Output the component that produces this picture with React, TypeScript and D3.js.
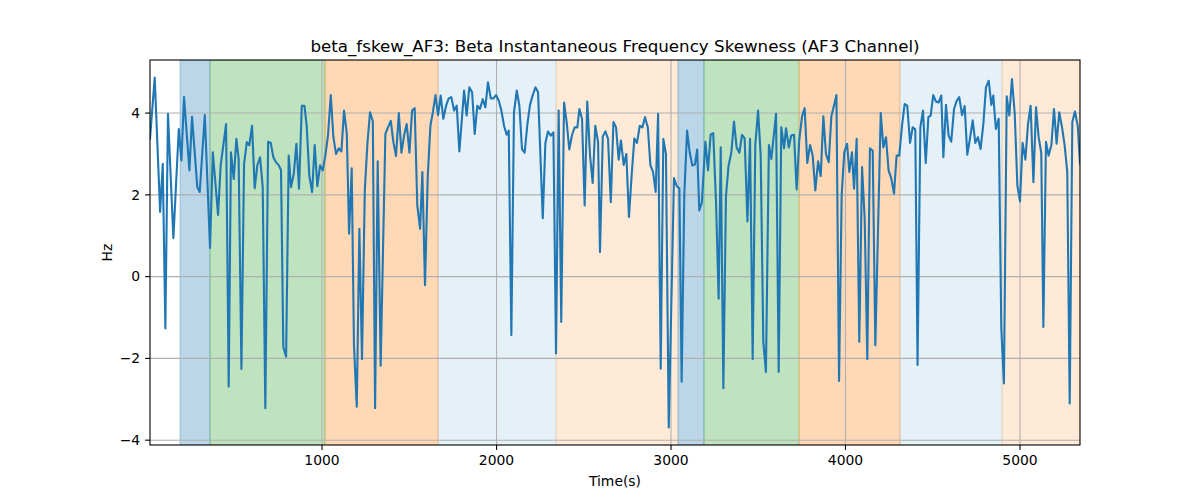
import React from "react";
import * as d3 from "d3";

const times: number[] = [
  14, 41, 72, 87, 102, 117, 148, 179, 194, 209, 240, 255, 285, 299, 328, 358, 374, 404, 419, 450,
  465, 478, 494, 509, 522, 538, 553, 569, 583, 599, 614, 629, 645, 660, 675, 691, 706, 721, 736, 752, 765, 778, 794, 809, 822, 838, 853, 868, 884, 899,
  912, 927, 943, 958, 973, 989, 1004, 1019, 1034, 1050, 1065, 1080, 1096, 1111, 1126, 1142, 1155, 1170, 1183, 1199, 1214, 1229, 1245, 1260, 1275, 1291, 1304, 1319, 1336,
  1363, 1378, 1394, 1409, 1424, 1440, 1455, 1470, 1485, 1501, 1516, 1531, 1546, 1562, 1575, 1590, 1606, 1621, 1636, 1650, 1665, 1680, 1695, 1711, 1726, 1741, 1757, 1772, 1787,
  1814, 1829, 1844, 1860, 1875, 1890, 1905, 1921, 1936, 1951, 1967, 1982, 1997, 2013, 2028, 2043, 2058, 2070, 2085, 2100, 2116, 2131, 2146, 2161, 2177, 2192, 2207, 2223, 2238,
  2265, 2280, 2295, 2311, 2326, 2341, 2356, 2371, 2387, 2402, 2417, 2433, 2448, 2463, 2475, 2490, 2505, 2520, 2536, 2551, 2566, 2582, 2593, 2609, 2624, 2639, 2655, 2670, 2685,
  2700, 2713, 2729, 2744, 2759, 2775, 2790, 2805, 2821, 2836, 2851, 2867, 2882, 2897, 2912, 2926, 2941, 2956, 2971, 2987, 3017, 3033, 3048, 3061, 3076, 3092, 3107, 3122,
  3137, 3150, 3162, 3177, 3197, 3212, 3227, 3242, 3258, 3273, 3285, 3300, 3315, 3330, 3346, 3361, 3376, 3392, 3407, 3422, 3438, 3453, 3468, 3483, 3499, 3514, 3529, 3544, 3561, 3575,
  3602, 3617, 3632, 3648, 3659, 3675, 3689, 3705, 3720, 3735, 3751, 3766, 3781, 3797, 3812, 3827, 3843, 3858, 3873, 3888, 3904, 3919, 3934, 3948, 3963, 3978, 3993, 4009, 4022,
  4037, 4049, 4064, 4079, 4095, 4110, 4125, 4140, 4156, 4171, 4202, 4217, 4232, 4247, 4263, 4278, 4293, 4308, 4324, 4339, 4354, 4370, 4385, 4400, 4413, 4429, 4444, 4460, 4475,
  4488, 4503, 4519, 4534, 4549, 4561, 4576, 4591, 4606, 4622, 4637, 4652, 4668, 4683, 4698, 4713, 4729, 4744, 4759, 4774, 4790, 4805, 4821, 4836, 4847, 4862, 4878, 4893, 4908, 4924,
  4939, 4954, 4970, 4985, 5000, 5015, 5031, 5046, 5061, 5077, 5092, 5107, 5122, 5134, 5149, 5164, 5180, 5195, 5210, 5225, 5241, 5256, 5271, 5285, 5300, 5315, 5331, 5344,
];

const values: number[] = [
  3.37, 4.87, 1.58, 2.76, -1.27, 3.98, 0.94, 3.61, 2.84, 4.39, 2.6, 3.91, 2.19, 2.07, 3.95, 0.7, 3.04, 1.51, 2.72, 3.73,
  -2.69, 3.04, 2.39, 3.37, 2.88, -2.26, 2.76, 3.29, 3.21, 3.69, 2.16, 2.72, 2.92, 2.19, -3.22, 3.3, 3.27, 2.92, 2.8, 2.72, 2.6, -1.72, -1.96, 2.96, 2.19, 2.51, 3.25, 2.15, 4.18, 4.18,
  3.69, 2.47, 2.07, 3.22, 2.21, 2.72, 2.6, 2.96, 3.45, 4.44, 3.41, 3.0, 3.14, 3.06, 4.06, 3.49, 1.05, 2.65, -1.68, -3.18, 1.17, -2.02, 2.11, 3.25, 4.02, 3.8, -3.22, 2.82, -2.18,
  3.49, 3.65, 3.81, 3.29, 2.95, 4.0, 3.03, 3.45, 3.73, 3.03, 4.06, 4.12, 1.74, 1.17, 2.56, -0.21, 2.47, 3.69, 4.04, 4.44, 3.95, 4.43, 3.86, 4.18, 4.36, 4.39, 4.06, 4.18, 3.06,
  4.55, 3.94, 4.63, 4.51, 3.49, 4.18, 4.1, 4.34, 4.14, 4.75, 4.36, 4.36, 4.44, 4.3, 4.06, 3.69, 3.47, 3.57, -1.43, 4.02, 4.55, 4.18, 3.12, 3.03, 3.73, 4.2, 4.43, 4.63, 4.51,
  1.43, 3.27, 3.55, 3.45, 3.53, -1.88, 4.06, -1.11, 4.26, 3.78, 3.11, 3.47, 3.65, 3.65, 4.1, 3.86, 1.74, 4.28, 2.96, 2.29, 3.69, 3.29, 0.6, 3.43, 3.55, 3.37, 1.82, 3.78, 3.65,
  2.86, 3.33, 2.73, 3.0, 1.46, 2.51, 3.38, 3.27, 3.69, 3.65, 3.9, 3.65, 2.72, 2.56, 2.07, 3.98, -2.25, 3.37, 3.0, -3.69, 2.41, 2.21, 2.16, -2.57, 1.98, 3.57, 3.04, 2.72,
  2.74, 3.11, 1.62, 1.82, 3.3, 2.6, 3.47, 3.51, 1.82, -0.54, 3.16, -2.73, 1.98, 2.72, 3.04, 3.79, 3.16, 3.03, 3.47, 3.38, 1.35, 3.37, -2.02, 3.22, 4.06, 2.96, -1.59, -2.33, 3.22, 2.88,
  3.98, -2.33, 3.65, 3.14, 3.63, 3.16, 3.45, 3.47, 2.13, 3.33, 3.92, 4.12, 2.78, 3.22, 2.96, 2.11, 2.82, 2.46, 3.92, 3.0, 2.8, 3.92, 4.18, 4.44, -2.55, 1.98, 3.04, 3.25, 2.56,
  3.04, 2.15, 3.37, -1.59, 2.68, 1.41, -2.02, 3.14, 3.08, -1.68, 4.0, 3.16, 3.41, 2.6, 2.39, 2.03, 2.96, 2.96, 3.69, 4.22, 4.18, 3.27, 3.65, 3.6, -2.16, 3.65, 4.06, 2.78, 3.9,
  3.94, 4.44, 4.28, 4.26, 4.43, 2.92, 4.2, 3.45, 3.3, 4.1, 4.3, 4.39, 3.95, 4.17, 2.98, 3.37, 3.82, 3.27, 3.41, 3.12, 3.73, 4.63, 4.79, 4.2, 4.43, 3.61, 3.86, -1.27, -2.61, 4.41,
  3.94, 4.83, 3.98, 2.23, 1.84, 3.27, 2.86, 3.73, 4.18, 2.31, 4.14, 3.41, 3.03, -1.23, 3.3, 2.96, 3.22, 4.1, 3.25, 4.02, 3.65, 3.21, 2.56, -3.1, 3.79, 4.04, 3.69, 2.76,
];

const spanStarts: number[] = [186, 358, 1017, 1665, 2341, 3040, 3189, 3734, 4312, 4897];
const spanEnds: number[] = [358, 1017, 1665, 2341, 3040, 3189, 3734, 4312, 4897, 5344];
const spanColors: string[] = ["#1f77b4", "#2ca02c", "#ff7f0e", "#1f77b4", "#ff7f0e", "#1f77b4", "#2ca02c", "#ff7f0e", "#1f77b4", "#ff7f0e"];
const spanAlphas: number[] = [0.3, 0.3, 0.3, 0.11, 0.16, 0.3, 0.3, 0.3, 0.11, 0.16];

const xTicks: number[] = [1000, 2000, 3000, 4000, 5000];
const yTicks: number[] = [-4, -2, 0, 2, 4];

const titleText = "beta_fskew_AF3: Beta Instantaneous Frequency Skewness (AF3 Channel)";
const xLabel = "Time(s)";
const yLabel = "Hz";

export default function App() {
  const W = 1200, H = 500;
  const left = 150, right = 1080, top = 60, bottom = 445;
  const font = "'DejaVu Sans', sans-serif";

  const x = d3.scaleLinear().domain([times[0], times[times.length - 1]]).range([left, right]);
  const [vmin, vmax] = d3.extent(values) as [number, number];
  const pad = (vmax - vmin) * 0.05;
  const y = d3.scaleLinear().domain([vmin - pad, vmax + pad]).range([bottom, top]);

  const pts = times.map((t, i) => [t, values[i]] as [number, number]);
  const line = d3.line<[number, number]>().x((d) => x(d[0])).y((d) => y(d[1]));

  const fmt = (v: number) => (v < 0 ? "\u2212" + Math.abs(v) : String(v));

  return (
    <svg width={W} height={H} style={{ position: "absolute", left: 0, top: 0, background: "#fff" }}>
      <rect x={0} y={0} width={W} height={H} fill="#fff" />
      <defs>
        <clipPath id="plotclip">
          <rect x={left} y={top} width={right - left} height={bottom - top} />
        </clipPath>
      </defs>
      <g clipPath="url(#plotclip)">
        {spanStarts.map((s, i) => (
          <rect
            key={i}
            x={x(s)}
            y={top}
            width={x(spanEnds[i]) - x(s)}
            height={bottom - top}
            fill={spanColors[i]}
            fillOpacity={spanAlphas[i]}
            stroke={spanColors[i]}
            strokeOpacity={spanAlphas[i]}
            strokeWidth={1}
          />
        ))}
        {xTicks.map((t) => (
          <line key={"gx" + t} x1={x(t)} x2={x(t)} y1={top} y2={bottom} stroke="#b0b0b0" strokeWidth={1.1} />
        ))}
        {yTicks.map((t) => (
          <line key={"gy" + t} x1={left} x2={right} y1={y(t)} y2={y(t)} stroke="#b0b0b0" strokeWidth={1.1} />
        ))}
        <path d={line(pts) || ""} fill="none" stroke="#1f77b4" strokeWidth={2.1} strokeLinejoin="round" strokeLinecap="square" />
      </g>
      <rect x={left} y={top} width={right - left} height={bottom - top} fill="none" stroke="#000" strokeWidth={1.1} />
      {xTicks.map((t) => (
        <g key={"tx" + t}>
          <line x1={x(t)} x2={x(t)} y1={bottom} y2={bottom + 4.9} stroke="#000" strokeWidth={1.1} />
          <text x={x(t)} y={bottom + 9.8} dy="0.76em" textAnchor="middle" fontFamily={font} fontSize={13.9} fill="#000">
            {fmt(t)}
          </text>
        </g>
      ))}
      {yTicks.map((t) => (
        <g key={"ty" + t}>
          <line x1={left - 4.9} x2={left} y1={y(t)} y2={y(t)} stroke="#000" strokeWidth={1.1} />
          <text x={left - 9.8} y={y(t)} dy="0.35em" textAnchor="end" fontFamily={font} fontSize={13.9} fill="#000">
            {fmt(t)}
          </text>
        </g>
      ))}
      <text x={(left + right) / 2} y={top - 8} textAnchor="middle" fontFamily={font} fontSize={16.7} fill="#000">
        {titleText}
      </text>
      <text x={(left + right) / 2} y={486} textAnchor="middle" fontFamily={font} fontSize={13.9} fill="#000">
        {xLabel}
      </text>
      <text transform={`translate(112, ${(top + bottom) / 2}) rotate(-90)`} textAnchor="middle" fontFamily={font} fontSize={13.9} fill="#000">
        {yLabel}
      </text>
    </svg>
  );
}
